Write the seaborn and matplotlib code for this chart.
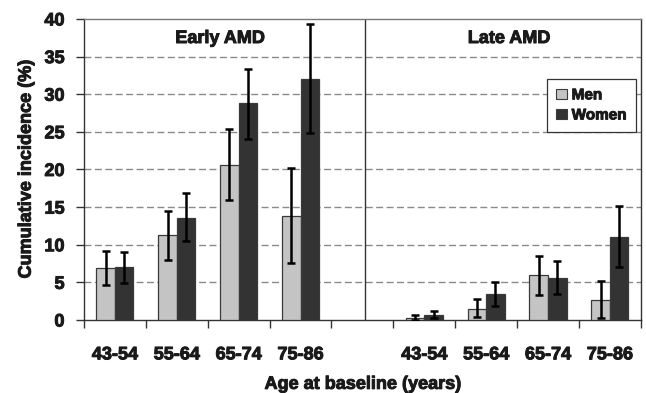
import matplotlib
matplotlib.use("Agg")
import matplotlib.pyplot as plt
import matplotlib.patheffects as pe
import seaborn as sns
import pandas as pd
import numpy as np
from matplotlib.patches import Patch
from matplotlib.ticker import FixedLocator
from matplotlib import font_manager

# ---- data ----
age_groups = ["43-54", "55-64", "65-74", "75-86"]
early_men = [6.9, 11.3, 20.6, 13.8]
early_men_lo = [4.6, 8.0, 15.9, 7.6]
early_men_hi = [9.1, 14.5, 25.4, 20.2]
early_women = [7.0, 13.6, 28.8, 32.0]
early_women_lo = [4.9, 10.5, 24.1, 24.9]
early_women_hi = [9.0, 16.9, 33.4, 39.3]
late_men = [0.2, 1.5, 6.0, 2.6]
late_men_lo = [0.0, 0.4, 3.3, 0.2]
late_men_hi = [0.7, 2.8, 8.5, 5.2]
late_women = [0.6, 3.4, 5.6, 11.0]
late_women_lo = [0.2, 1.8, 3.4, 7.0]
late_women_hi = [1.2, 5.1, 7.9, 15.1]
sexes = ["Men", "Women"]
panels = ["Early AMD", "Late AMD"]

# category order with an empty gap slot between the panels
order = ["E " + a for a in age_groups] + ["gap"] + ["L " + a for a in age_groups]
tick_labels = age_groups + [""] + age_groups

rows = []
for i, a in enumerate(age_groups):
    rows.append(("E " + a, "Men", early_men[i], early_men_lo[i], early_men_hi[i]))
    rows.append(("E " + a, "Women", early_women[i], early_women_lo[i], early_women_hi[i]))
    rows.append(("L " + a, "Men", late_men[i], late_men_lo[i], late_men_hi[i]))
    rows.append(("L " + a, "Women", late_women[i], late_women_lo[i], late_women_hi[i]))
df = pd.DataFrame(rows, columns=["cat", "sex", "val", "lo", "hi"])

sns.set_theme(style="white")

# pick a family that really has a bold face
fam = "DejaVu Sans"
for cand in ["Liberation Sans", "Roboto", "Open Sans", "Lato", "Inter"]:
    try:
        p = font_manager.findfont(font_manager.FontProperties(family=cand, weight="bold"),
                                  fallback_to_default=False)
        if "bold" in p.lower():
            fam = cand
            break
    except Exception:
        pass
plt.rcParams["font.family"] = [fam, "DejaVu Sans"]
plt.rcParams["font.weight"] = "bold"

FS = 13
TXT = "#1a1a1a"
thick = [pe.withStroke(linewidth=0.7, foreground=TXT)]
colors = {"Men": "#c4c4c4", "Women": "#333333"}

fig = plt.figure(figsize=(6.46, 3.93), dpi=100)
ax = fig.add_axes([0.130, 0.1858, 0.862, 0.766])

sns.barplot(data=df, x="cat", y="val", hue="sex", order=order, hue_order=sexes,
            palette=colors, width=0.6, errorbar=None, edgecolor="#3a3a3a",
            linewidth=0.9, ax=ax, legend=False, zorder=3)

# error bars
for _, r in df.iterrows():
    x = order.index(r["cat"]) + (-0.15 if r["sex"] == "Men" else 0.15)
    ax.errorbar(x, r["val"], yerr=[[r["val"] - r["lo"]], [r["hi"] - r["val"]]],
                fmt="none", ecolor="black", elinewidth=1.8, capsize=3,
                capthick=1.8, zorder=4)

ax.set_ylim(0, 40)
ax.set_xlim(-0.5, len(order) - 0.5)
ax.set_yticks(np.arange(0, 41, 5))
ax.set_yticklabels([str(v) for v in range(0, 41, 5)], fontsize=FS, fontweight="bold", color=TXT)

# grid lines
for y in range(5, 40, 5):
    ax.axhline(y, color="#8a8a8a", linestyle=(0, (5, 2.5)), linewidth=1.0, zorder=1)

# divider
ax.axvline(4.04, color="#333333", linewidth=1.0, zorder=2)

# x ticks
ax.set_xticks(range(len(order)))
ax.set_xticklabels(tick_labels, fontsize=FS, fontweight="bold", color=TXT)
ax.tick_params(axis="x", which="major", length=0, pad=19)
ax.xaxis.set_minor_locator(FixedLocator(np.arange(-0.5, len(order), 1.0)))
ax.tick_params(axis="x", which="minor", bottom=True, length=6, width=1.0, color="#333333", direction="out")
ax.tick_params(axis="y", left=True, length=6, width=1.0, color="#333333", direction="out", pad=8)

for s in ["left", "bottom", "right"]:
    ax.spines[s].set_color("#333333")
    ax.spines[s].set_linewidth(1.0)
ax.spines["top"].set_color("#777777")
ax.spines["top"].set_linewidth(1.0)

ax.set_xlabel("Age at baseline (years)", fontsize=FS, fontweight="bold", labelpad=9, color=TXT)
ax.set_ylabel("Cumulative incidence (%)", fontsize=FS, fontweight="bold", labelpad=7, color=TXT)

ax.text(1.70, 37.4, panels[0], ha="center", va="center", fontsize=FS, fontweight="bold", color=TXT)
ax.text(6.37, 37.4, panels[1], ha="center", va="center", fontsize=FS, fontweight="bold", color=TXT)

handles = [Patch(facecolor=colors[s], edgecolor="#3a3a3a", linewidth=0.8, label=s) for s in sexes]
leg = ax.legend(handles=handles, loc="upper right", bbox_to_anchor=(0.991, 0.80),
                frameon=True, fancybox=False, edgecolor="#333333", framealpha=1,
                handlelength=0.7, handleheight=0.7, handletextpad=0.3,
                borderpad=0.6, labelspacing=0.4, borderaxespad=0.0,
                prop={"weight": "bold", "size": 11})
leg.get_frame().set_linewidth(0.9)
for t in leg.get_texts():
    t.set_color(TXT)

# make the heavy Arial-bold look
texts = ax.get_xticklabels() + ax.get_yticklabels() + [ax.xaxis.label, ax.yaxis.label] \
    + list(ax.texts) + list(leg.get_texts())
for t in texts:
    t.set_path_effects(thick)

fig.savefig("out.png", dpi=100)
